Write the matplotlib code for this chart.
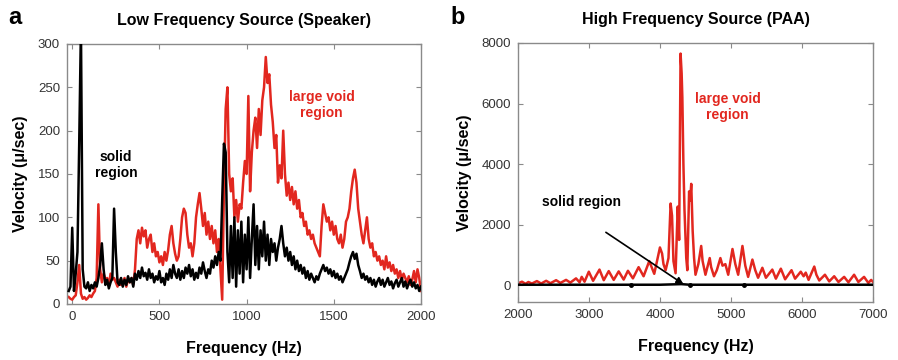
import numpy as np
import matplotlib
matplotlib.use("Agg")
import matplotlib.pyplot as plt

plt.rcParams['font.family'] = ['Liberation Sans', 'DejaVu Sans']

# ---------------- Panel a data (10 Hz grid starting at -20 Hz) ----------------
freq_a_start = -20
freq_a_step = 10
red_a = [
    8, 6, 5, 8, 10, 25, 45, 12, 6, 8,            # -20..70
    5, 7, 10, 8, 12, 15, 30, 115, 40, 25,        # 80..170
    35, 28, 30, 22, 35, 28, 30, 25, 20, 28,      # 180..270
    22, 25, 30, 20, 28, 25, 30, 22, 40, 75,      # 280..370
    85, 70, 88, 78, 85, 65, 75, 80, 60, 70,      # 380..470
    55, 60, 48, 55, 45, 60, 50, 62, 80, 90,      # 480..570
    70, 58, 50, 55, 75, 100, 110, 105, 80, 65,   # 580..670
    70, 55, 70, 100, 115, 128, 110, 90, 105, 80, # 680..770
    95, 75, 90, 70, 85, 60, 75, 40, 5, 130,      # 780..870
    225, 250, 150, 130, 145, 100, 120, 95, 115, 110,   # 880..970
    140, 165, 150, 240, 130, 175, 200, 215, 180, 225,  # 980..1070
    195, 235, 250, 285, 255, 265, 230, 210, 180, 195,  # 1080..1170
    140, 160, 145, 200, 150, 125, 140, 120, 135, 115,  # 1180..1270
    130, 110, 120, 100, 105, 90, 95, 80, 85, 75,       # 1280..1370
    80, 70, 65, 60, 55, 90, 115, 105, 95, 100,        # 1380..1470
    85, 95, 80, 90, 75, 70, 80, 65, 75, 95,            # 1480..1570
    100, 110, 130, 145, 155, 140, 110, 95, 80, 70,     # 1580..1670
    85, 100, 75, 65, 70, 55, 60, 50, 55, 45,           # 1680..1770
    50, 40, 55, 42, 48, 38, 45, 35, 40, 30,            # 1780..1870
    38, 28, 35, 30, 25, 32, 22, 28, 38, 25,            # 1880..1970
    40, 30, 15,                                        # 1980..2000
]
black_a = [
    15, 20, 88, 15, 35, 60, 185, 320, 40, 20,    # -20..70
    18, 25, 15, 22, 18, 25, 20, 30, 45, 70,      # 80..170
    40, 22, 28, 18, 25, 30, 110, 60, 25, 22,     # 180..270
    30, 20, 28, 22, 32, 25, 30, 20, 35, 28,      # 280..370
    38, 30, 42, 32, 36, 28, 40, 30, 35, 25,      # 380..470
    32, 28, 38, 25, 30, 22, 35, 28, 40, 30,      # 480..570
    45, 35, 30, 40, 28, 38, 30, 42, 35, 45,      # 580..670
    32, 40, 28, 36, 30, 42, 35, 48, 38, 30,      # 680..770
    40, 35, 50, 42, 55, 45, 60, 50, 120, 185,    # 780..870
    175, 60, 25, 90, 30, 100, 20, 85, 35, 95,    # 880..970
    25, 80, 40, 100, 30, 75, 115, 45, 90, 40,    # 980..1070
    85, 55, 95, 50, 80, 45, 75, 60, 70, 50,      # 1080..1170
    65, 75, 90, 70, 55, 65, 50, 60, 45, 55,      # 1180..1270
    40, 50, 38, 45, 35, 42, 30, 38, 28, 35,      # 1280..1370
    30, 25, 32, 28, 35, 40, 45, 38, 42, 35,      # 1380..1470
    40, 32, 38, 30, 35, 28, 32, 25, 30, 35,      # 1480..1570
    40, 48, 55, 60, 52, 58, 45, 38, 30, 35,      # 1580..1670
    28, 32, 25, 30, 22, 28, 20, 26, 30, 22,      # 1680..1770
    28, 20, 25, 30, 22, 26, 18, 24, 28, 20,      # 1780..1870
    25, 30, 20, 26, 18, 24, 28, 20, 25, 18,      # 1880..1970
    22, 15, 20,                                  # 1980..2000
]
freq_a_red = freq_a_start + freq_a_step * np.arange(len(red_a))
freq_a_black = freq_a_start + freq_a_step * np.arange(len(black_a))

# ---------------- Panel b data ----------------
freq_b = [2000, 2060, 2110, 2150, 2200, 2270, 2330, 2400, 2460, 2540, 2600, 2680, 2740,
          2820, 2870, 2900, 2940, 3000, 3060, 3150, 3210, 3280, 3350, 3420, 3490, 3550,
          3620, 3700, 3770, 3850, 3920, 4000, 4030, 4050, 4080, 4120, 4150, 4170, 4190,
          4220, 4250, 4270, 4290, 4305, 4315, 4330, 4345, 4370, 4385, 4410, 4425, 4440,
          4460, 4480, 4500, 4540, 4580, 4600, 4640, 4700, 4720, 4760, 4800, 4850, 4880,
          4920, 4960, 5020, 5060, 5100, 5160, 5200, 5240, 5300, 5340, 5380, 5440, 5490,
          5580, 5630, 5700, 5760, 5850, 5900, 5980, 6020, 6050, 6090, 6170, 6200, 6240,
          6320, 6380, 6450, 6510, 6590, 6650, 6730, 6790, 6870, 6930, 6970, 7000]
red_b = [60, 120, 50, 110, 60, 140, 60, 150, 70, 170, 80, 180, 90,
         230, 100, 280, 120, 450, 150, 520, 170, 470, 180, 460, 190, 480,
         230, 600, 300, 800, 380, 1250, 1050, 700, 500, 900, 2700, 2300, 800,
         400, 2600, 1500, 7650, 7000, 6200, 4000, 2500, 900, 500, 3100, 2800, 3350,
         1800, 900, 350, 700, 1300, 800, 350, 900, 600, 300, 500, 900, 650,
         700, 350, 1200, 700, 350, 1300, 650, 280, 850, 500, 250, 580, 250,
         520, 220, 550, 200, 500, 220, 450, 300, 420, 180, 620, 350, 160,
         350, 130, 300, 110, 280, 100, 350, 110, 280, 80, 180, 100]
black_b_freq = [2000, 3000, 3600, 4000, 4300, 4420, 5000, 5180, 6000, 7000]
black_b = [20, 20, 20, 20, 40, 20, 20, 20, 20, 20]
black_b_dots = [3600, 4420, 5180]

RED = '#e2271f'
GRAY = '#8a8a8a'
TICK_COLOR = '#333333'

fig = plt.figure(figsize=(8.98, 3.6), dpi=100)
ax_a = fig.add_axes([0.0746, 0.1556, 0.3942, 0.7222])
ax_b = fig.add_axes([0.5765, 0.1611, 0.3960, 0.7195])


def style(ax):
    for s in ax.spines.values():
        s.set_color(GRAY)
        s.set_linewidth(1.0)
    ax.tick_params(direction='in', top=True, right=True, length=3.5, width=0.8,
                   color=GRAY, labelsize=9.5, labelcolor=TICK_COLOR, pad=5)
    ax.set_xlabel('Frequency (Hz)', fontsize=11.5, fontweight='bold', labelpad=13)
    ax.set_ylabel('Velocity (\u03bc/sec)', fontsize=11.5, fontweight='bold', labelpad=7)


# Panel a
ax_a.plot(freq_a_red, red_a, color=RED, lw=1.8, zorder=2)
ax_a.plot(freq_a_black, black_a, color='black', lw=1.8, zorder=3)
ax_a.set_xlim(-30, 2000)
ax_a.set_ylim(0, 300)
ax_a.set_xticks([0, 500, 1000, 1500, 2000])
ax_a.set_yticks([0, 50, 100, 150, 200, 250, 300])
style(ax_a)
ax_a.set_title('Low Frequency Source (Speaker)', fontsize=11.5, fontweight='bold', pad=14)
ax_a.text(250, 160, 'solid\nregion', ha='center', va='center', fontsize=10,
          fontweight='bold', color='black', linespacing=1.2)
ax_a.text(1430, 230, 'large void\nregion', ha='center', va='center', fontsize=10,
          fontweight='bold', color=RED, linespacing=1.2)

# Panel b
ax_b.plot(freq_b, red_b, color=RED, lw=1.8, zorder=2)
ax_b.plot(black_b_freq, black_b, color='black', lw=1.8, zorder=3)
ax_b.plot(black_b_dots, [20] * len(black_b_dots), 'o', color='black', ms=2.5, zorder=3)
ax_b.set_xlim(2000, 7000)
ax_b.set_ylim(-550, 8000)
ax_b.set_xticks([2000, 3000, 4000, 5000, 6000, 7000])
ax_b.set_yticks([0, 2000, 4000, 6000, 8000])
style(ax_b)
ax_b.set_title('High Frequency Source (PAA)', fontsize=11.5, fontweight='bold', pad=14)
ax_b.text(4950, 5900, 'large void\nregion', ha='center', va='center', fontsize=10,
          fontweight='bold', color=RED, linespacing=1.2)
ax_b.text(2900, 2750, 'solid region', ha='center', va='center', fontsize=10,
          fontweight='bold', color='black')
ax_b.annotate('', xy=(4330, 40), xytext=(3240, 1750),
              arrowprops=dict(arrowstyle='-|>', color='black', lw=1.2,
                              mutation_scale=10, shrinkA=0, shrinkB=0), zorder=4)

fig.text(0.009, 0.95, 'a', fontsize=17, fontweight='bold', ha='left', va='center')
fig.text(0.502, 0.95, 'b', fontsize=17, fontweight='bold', ha='left', va='center')

fig.savefig('out.png', dpi=100)
